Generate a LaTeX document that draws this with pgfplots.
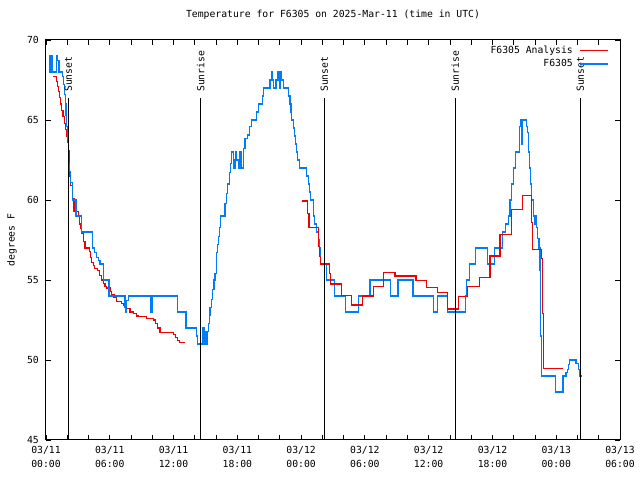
\documentclass[border=0pt]{standalone}
\usepackage{pgfplots}
\pgfplotsset{compat=1.18}
\usepackage{fontspec}
\setmainfont{DejaVu Sans Mono}
\definecolor{obsblue}{RGB}{0,125,245}
\definecolor{anred}{RGB}{240,0,0}
\begin{document}
\begin{tikzpicture}[x=1bp,y=1bp,font=\fontsize{9.8}{12}\selectfont]
\begin{axis}[
  at={(0,0)}, anchor=south west,
  scale only axis, width=574bp, height=400bp,
  xmin=0, xmax=54, ymin=45, ymax=70,
  axis line style={line width=1bp},
  xtick={0,6,...,54},
  minor xtick={0,2,...,54},
  xticklabels={{03/11\\00:00},{03/11\\06:00},{03/11\\12:00},{03/11\\18:00},{03/12\\00:00},{03/12\\06:00},{03/12\\12:00},{03/12\\18:00},{03/13\\00:00},{03/13\\06:00}},
  xticklabel style={align=center, inner sep=0pt, yshift=-6bp, font=\fontsize{9.8}{14}\selectfont},
  ytick={45,50,...,70},
  yticklabel style={inner sep=0pt, xshift=-7bp},
  /pgf/number format/assume math mode=true,
  tick align=inside,
  major tick length=5bp, minor tick length=5bp,
  tick style={black, line width=0.8bp},
  ylabel={degrees F},
  ylabel style={at={(axis description cs:-0.0595,0.5)}, anchor=center, inner sep=0pt},
  title={Temperature for F6305 on 2025-Mar-11 (time in UTC)},
  title style={at={(axis description cs:0.5,1)}, anchor=base, yshift=17bp, inner sep=0pt},
  legend plot pos=right,
  legend cell align=right,
  legend image code/.code={\draw[#1] (0bp,0bp) -- (28bp,0bp);},
  legend style={at={(axis description cs:0.981,0.9875)}, anchor=north east, draw=none, fill=none, inner sep=0pt, row sep=2.5bp, column sep=6bp, nodes={inner sep=1bp}},
]
\coordinate (ll) at (rel axis cs:0,0);
\addplot[anred, line width=1.1bp, const plot] coordinates {
(0.69,67.7)(1.0,67.4)(1.1,67.1)(1.2,66.8)(1.3,66.4)(1.4,66.0)(1.5,65.6)(1.6,65.2)(1.7,64.8)(1.8,64.4)(1.9,64.0)(2.0,63.6)(2.1,63.1)(2.16,62.2)(2.24,61.5)(2.32,60.9)(2.47,60.1)(2.63,59.3)(3.04,59.0)(3.15,58.5)(3.25,58.2)(3.36,57.9)(3.5,57.4)(3.67,57.0)(4.08,56.8)(4.2,56.4)(4.3,56.1)(4.45,55.9)(4.6,55.7)(4.83,55.6)(5.0,55.3)(5.2,55.0)(5.39,54.8)(5.55,54.6)(5.71,54.5)(6.02,54.3)(6.2,54.1)(6.4,53.9)(6.65,53.65)(7.12,53.55)(7.3,53.4)(7.59,53.2)(7.9,53.0)(8.2,52.9)(8.5,52.75)(8.68,52.7)(9.47,52.6)(10.1,52.5)(10.3,52.3)(10.5,52.0)(10.72,51.7)(11.98,51.6)(12.2,51.4)(12.4,51.2)(12.6,51.1)(13.0,51.05)
};
\addlegendentry{F6305 Analysis}
\addplot[obsblue, line width=1.1bp, const plot] coordinates {
(0.28,68)(0.32,69)(0.40,68)(0.50,69)(0.56,68)(1.0,69)(1.1,68.7)(1.22,68)(1.54,67.7)(1.63,67.2)(1.72,66.6)(1.8,66.0)(1.88,65.3)(1.95,64.6)(2.02,63.8)(2.08,63.0)(2.13,62.3)(2.2,61.8)(2.32,61.1)(2.47,60)(2.82,59)(3.36,58)(4.39,57)(4.6,56.7)(4.75,56.4)(4.9,56.2)(5.08,56)(5.39,55)(5.93,54)(7.43,53.3)(7.53,53)(7.6,53.7)(7.75,54)(9.88,53)(9.97,54)(12.39,53)(13.17,52)(14.17,51.5)(14.24,51)(14.74,52)(14.86,51)(14.96,51.8)(15.05,51)
(15.2,51.8)(15.27,52.3)(15.35,52.8)(15.43,53.3)(15.55,53.8)(15.68,54.4)(15.8,55)(15.9,55.4)(16.0,56.1)(16.06,56.7)(16.15,57.2)(16.21,57.7)(16.3,58.3)(16.43,59)(16.84,59.8)(17.0,60.4)(17.1,61)(17.25,61.7)(17.35,62.3)(17.47,63)(17.6,62.5)(17.69,62)(17.8,63)(17.94,62.5)(18.09,62)(18.25,63)(18.41,62)(18.56,63.2)(18.72,63.85)(18.94,64.06)(19.12,64.6)(19.35,65)(19.82,65.5)(19.97,66)(20.38,66.5)(20.44,67)(21.07,67.5)(21.23,68)(21.3,67.5)(21.38,67)(21.64,67.5)(21.76,68)(21.85,67.5)(21.95,67)(22.01,68)(22.17,67.5)(22.32,67)(22.79,66.5)(22.95,66)(23.05,65.5)(23.11,65)(23.25,64.5)(23.42,64)(23.5,63.5)(23.58,63)(23.7,62.5)(23.83,62)
(24.52,61.5)(24.68,61)(24.8,60.5)(24.90,60)(25.15,59)(25.3,58.5)(25.46,58)(25.62,57.5)(25.71,57)(25.84,56)(26.41,55)(27.12,54)(28.16,53)(29.38,54)(30.48,55)(32.43,54)(33.11,55)(34.53,54)(36.44,53)(36.81,54)(37.79,53)(39.45,54)(39.58,55)(39.82,56)(40.39,57)(41.55,56)(42.17,57)(42.96,58)(43.2,58.5)(43.49,59)(43.65,60)(43.81,61)(43.96,62)(44.15,63)(44.53,64.6)(44.66,65)(44.75,63.5)(44.84,65)(45.22,64.6)(45.28,64.2)(45.37,63)(45.47,62)(45.60,61)(45.69,60)(45.84,59)(45.94,58.5)(46.07,59)(46.16,58.3)(46.26,57.6)(46.38,57)(46.47,55.6)(46.54,51.5)(46.63,49)(47.91,48)(48.64,49)(48.92,49.2)(49.04,49.4)(49.15,49.7)(49.29,50)(49.86,49.8)(50.08,49.4)(50.24,49)(50.39,49)
};
\addlegendentry{F6305}
\addplot[anred, line width=1.1bp, const plot, forget plot] coordinates {
(24.11,59.94)(24.61,59.17)(24.74,58.3)(25.62,57.08)(25.71,56.46)(25.84,56.0)(26.65,55.4)(26.78,54.75)(27.81,54.02)(28.76,53.44)(29.79,54.0)(30.79,54.58)(31.73,55.48)(32.83,55.25)(34.81,54.96)(35.81,54.54)(36.81,54.23)(37.75,53.19)(38.79,53.96)(39.67,54.58)(40.76,55.17)(41.77,56.5)(42.71,57.85)(43.77,59.38)(44.81,60.27)(45.69,58.58)(45.75,56.92)(46.63,56.35)(46.72,52.92)(46.82,49.48)(47.73,49.45)(48.67,49.45)
};
% sunrise / sunset markers
\addplot[black, line width=1bp, forget plot] coordinates {(2.10,45) (2.10,66.375)};
\addplot[black, line width=1bp, forget plot] coordinates {(14.55,45) (14.55,66.375)};
\addplot[black, line width=1bp, forget plot] coordinates {(26.18,45) (26.18,66.375)};
\addplot[black, line width=1bp, forget plot] coordinates {(38.50,45) (38.50,66.375)};
\addplot[black, line width=1bp, forget plot] coordinates {(50.26,45) (50.26,66.375)};
\node[rotate=90, anchor=west, inner sep=0pt] at (axis cs:2.10,66.75) {Sunset};
\node[rotate=90, anchor=west, inner sep=0pt] at (axis cs:14.55,66.75) {Sunrise};
\node[rotate=90, anchor=west, inner sep=0pt] at (axis cs:26.18,66.75) {Sunset};
\node[rotate=90, anchor=west, inner sep=0pt] at (axis cs:38.50,66.75) {Sunrise};
\node[rotate=90, anchor=west, inner sep=0pt] at (axis cs:50.26,66.75) {Sunset};
\end{axis}
\pgfresetboundingbox
\path[use as bounding box] (ll) ++(-46,-40) rectangle ++(640,480);
\end{tikzpicture}
\end{document}
